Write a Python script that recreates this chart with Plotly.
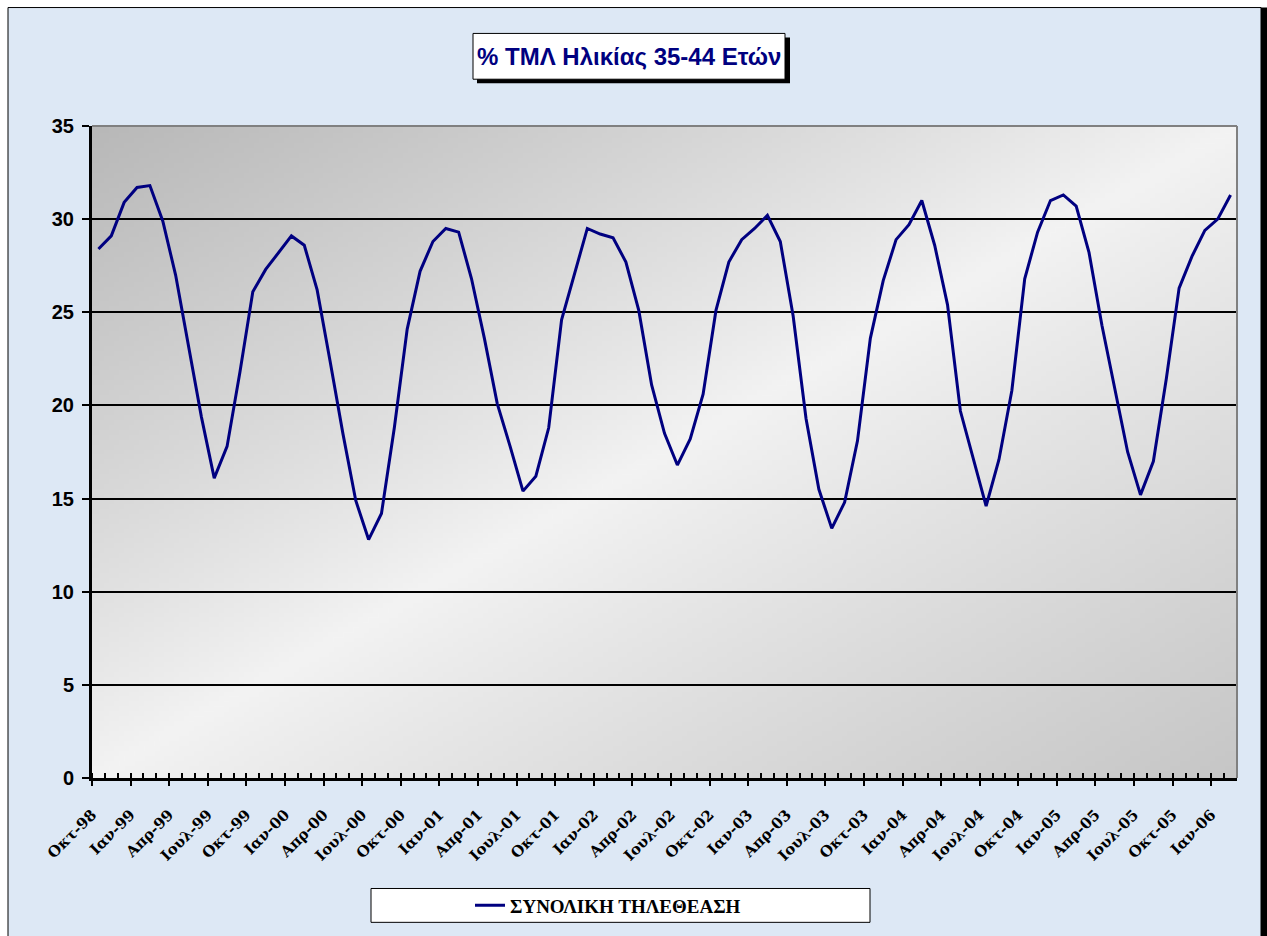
import zlib, struct, base64
import plotly.graph_objects as go

# ---------------- data ----------------
months = ["Οκτ", "Νοε", "Δεκ", "Ιαν", "Φεβ", "Μαρ", "Απρ", "Μαϊ", "Ιουν", "Ιουλ", "Αυγ", "Σεπ"]
start_year = 98
values = [
    28.4, 29.1, 30.9,                                                             # Oct-Dec 98
    31.7, 31.8, 29.9, 27.0, 23.3, 19.4, 16.1, 17.8, 21.8, 26.1, 27.3, 28.2,       # 1999
    29.1, 28.6, 26.2, 22.4, 18.5, 14.9, 12.8, 14.2, 18.8, 24.1, 27.2, 28.8,       # 2000
    29.5, 29.3, 26.8, 23.6, 20.1, 17.8, 15.4, 16.2, 18.8, 24.6, 27.0, 29.5,       # 2001
    29.2, 29.0, 27.7, 25.1, 21.1, 18.5, 16.8, 18.2, 20.6, 25.1, 27.7, 28.9,       # 2002
    29.5, 30.2, 28.8, 24.8, 19.3, 15.5, 13.4, 14.8, 18.1, 23.6, 26.7, 28.9,       # 2003
    29.7, 31.0, 28.6, 25.4, 19.7, 17.2, 14.6, 17.1, 20.8, 26.8, 29.3, 31.0,       # 2004
    31.3, 30.7, 28.2, 24.3, 20.8, 17.5, 15.2, 17.0, 21.4, 26.3, 28.0, 29.4,       # 2005
    30.0, 31.3,                                                                   # Jan-Feb 06
]
categories = []
for k in range(len(values)):
    m = k % 12
    yr = (start_year + (k + 9) // 12) % 100
    categories.append(f"{months[m]}-{yr:02d}")
label_step = 3
tick_labels = categories[::label_step]
series_name = "ΣΥΝΟΛΙΚΗ ΤΗΛΕΘΕΑΣΗ"
title_text = "% ΤΜΛ Ηλικίας 35-44 Ετών"
y_ticks = [0, 5, 10, 15, 20, 25, 30, 35]

# ---------------- geometry helpers ----------------
W, H = 1267, 936
L, R, T, B = 92, 1237, 126, 781


def px(x):
    return (x - L) / (R - L)


def py(y):
    return (B - y) / (B - T)


# ---------------- gradient background for plot area ----------------
def png_data_uri(w, h, fn):
    raw = bytearray()
    for j in range(h):
        raw.append(0)
        for i in range(w):
            raw += bytes(fn(i / (w - 1), j / (h - 1)))

    def chunk(t, d):
        c = struct.pack(">I", len(d)) + t + d
        return c + struct.pack(">I", zlib.crc32(t + d) & 0xFFFFFFFF)

    png = (b"\x89PNG\r\n\x1a\n"
           + chunk(b"IHDR", struct.pack(">IIBBBBB", w, h, 8, 2, 0, 0, 0))
           + chunk(b"IDAT", zlib.compress(bytes(raw), 9))
           + chunk(b"IEND", b""))
    return "data:image/png;base64," + base64.b64encode(png).decode()


def grad(u, v):
    t = (u + v) / 2.0
    light = 243
    if t < 0.5:
        dark = 184
        d = 1 - 2 * t
    else:
        dark = 198
        d = 2 * t - 1
    c = int(round(light - (light - dark) * d ** 0.9))
    return (c, c, c)


grad_uri = png_data_uri(230, 132, grad)

n = len(values)
x_idx = list(range(n))

fig = go.Figure()
fig.add_trace(go.Scatter(
    x=x_idx, y=values, mode="lines", name=series_name,
    line=dict(color="#000080", width=3),
    text=categories, hovertemplate="%{text}: %{y}<extra></extra>",
))

shapes = [
    # chart area background (blue) with border
    dict(type="rect", xref="paper", yref="paper", x0=px(8), x1=px(1261), y0=py(945), y1=py(7),
         fillcolor="#dde8f5", line=dict(color="black", width=1), layer="below"),
    dict(type="rect", xref="paper", yref="paper", x0=px(1261), x1=px(1270), y0=py(945), y1=py(7),
         fillcolor="black", line=dict(width=0), layer="below"),
    # title shadow and box
    dict(type="rect", xref="paper", yref="paper", x0=px(477), x1=px(790), y0=py(83), y1=py(37),
         fillcolor="black", line=dict(width=0), layer="below"),
    dict(type="rect", xref="paper", yref="paper", x0=px(473), x1=px(785), y0=py(79), y1=py(33),
         fillcolor="white", line=dict(color="black", width=1), layer="below"),
    # legend box
    dict(type="rect", xref="paper", yref="paper", x0=px(371), x1=px(870), y0=py(926), y1=py(892),
         fillcolor="white", line=dict(color="black", width=1), layer="below"),
    # plot area top/right border (gray)
    dict(type="line", xref="paper", yref="paper", x0=0, x1=1, y0=1, y1=1,
         line=dict(color="#808080", width=2), layer="above"),
    dict(type="line", xref="paper", yref="paper", x0=1, x1=1, y0=0, y1=1,
         line=dict(color="#808080", width=2), layer="above"),
]

fig.update_layout(
    width=W, height=H,
    margin=dict(l=L, r=W - R, t=T, b=H - B, pad=0),
    paper_bgcolor="white",
    plot_bgcolor="rgba(0,0,0,0)",
    shapes=shapes,
    images=[dict(source=grad_uri, xref="x", yref="y", x=-0.5, y=35, sizex=n, sizey=35,
                 sizing="stretch", xanchor="left", yanchor="top", layer="below")],
    annotations=[dict(text=title_text, xref="paper", yref="paper", x=px(629), y=py(56),
                      showarrow=False, xanchor="center", yanchor="middle",
                      font=dict(family="Liberation Sans, Arial", size=24, color="#000080", weight="bold"))],
    showlegend=True,
    legend=dict(x=px(470), y=py(909), xanchor="left", yanchor="middle",
                bgcolor="rgba(0,0,0,0)", borderwidth=0,
                font=dict(family="Liberation Serif, Times New Roman", size=19, color="black", weight="bold")),
    xaxis=dict(
        range=[-0.5, n - 0.5], showgrid=False, zeroline=False,
        showline=True, linecolor="black", linewidth=3,
        tickmode="array", tickvals=[i - 0.5 for i in range(0, n, label_step)][:len(tick_labels)],
        ticktext=tick_labels, tickangle=-45,
        ticks="outside", ticklen=5, tickwidth=2, tickcolor="black",
        minor=dict(ticks="inside", dtick=1, tick0=-0.5, ticklen=5, tickwidth=2, tickcolor="black", showgrid=False),
        tickfont=dict(family="DejaVu Serif", size=15, color="black", weight="bold"),
        ticklabelstandoff=14,
        fixedrange=True,
    ),
    yaxis=dict(
        range=[0, 35], tickmode="array", tickvals=y_ticks,
        showgrid=True, gridcolor="black", gridwidth=1.5, zeroline=False,
        showline=True, linecolor="black", linewidth=3,
        ticks="outside", ticklen=7, tickwidth=2, tickcolor="black",
        tickfont=dict(family="Liberation Sans, Arial", size=20, color="black", weight="bold"),
        ticklabelstandoff=4,
        fixedrange=True,
    ),
)

fig.write_html("out.html", config={"displayModeBar": False},
               post_script="document.body.style.margin='0';")
